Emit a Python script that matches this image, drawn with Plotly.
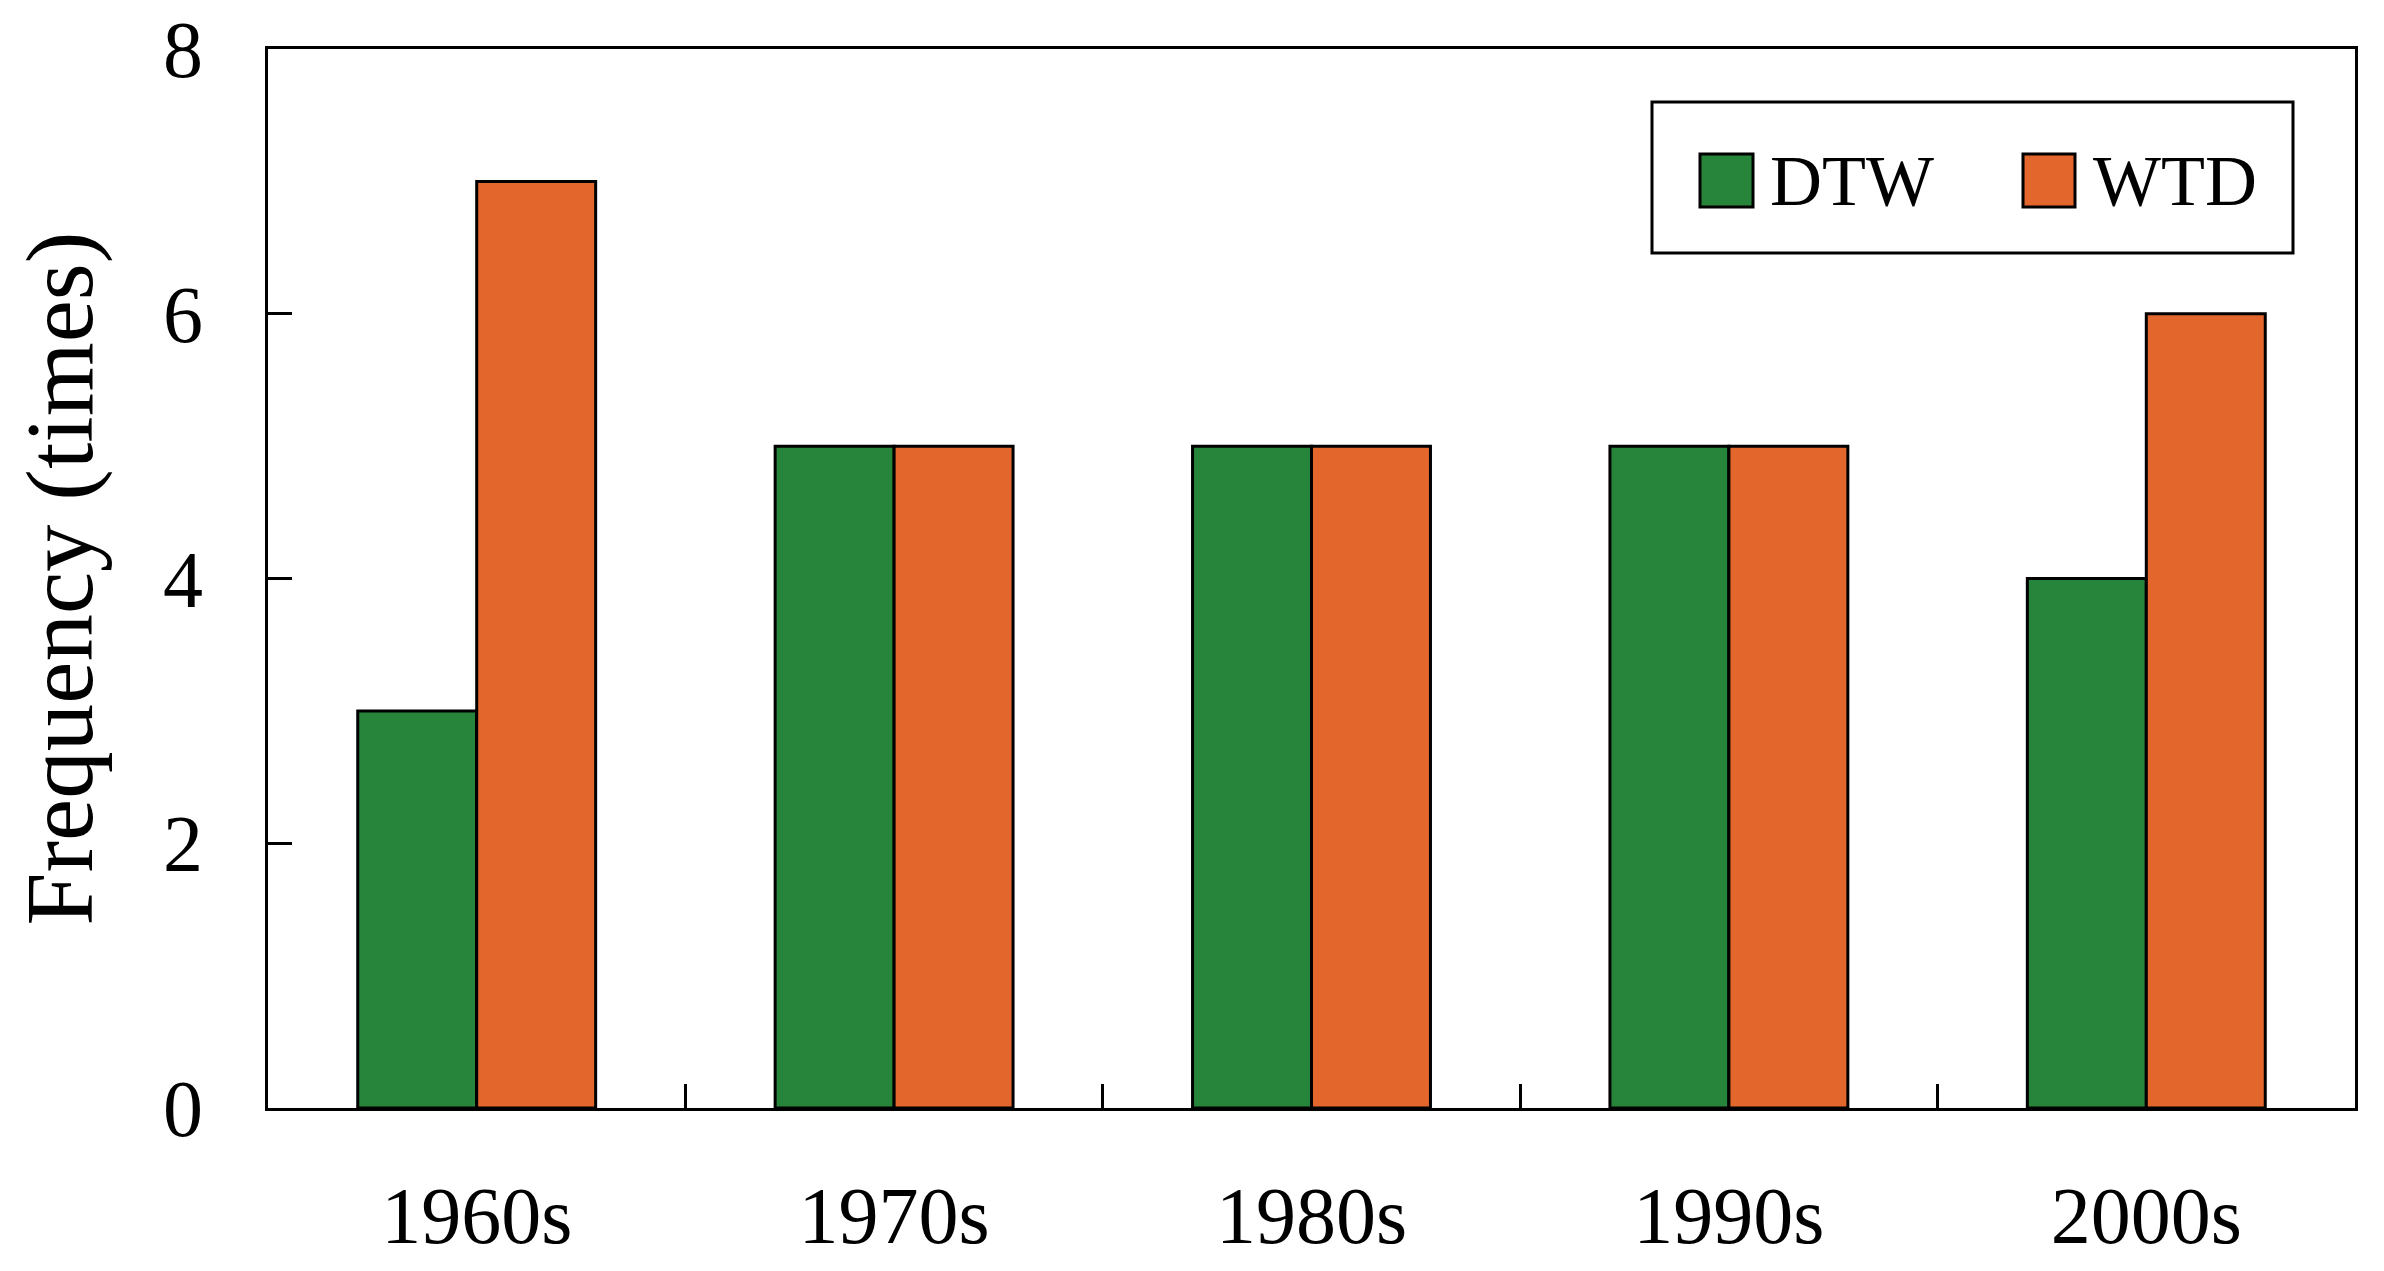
import plotly.graph_objects as go

categories = ["1960s", "1970s", "1980s", "1990s", "2000s"]
series_names = ["DTW", "WTD"]
dtw_values = [3, 5, 5, 5, 4]
wtd_values = [7, 5, 5, 5, 6]
y_tick_values = [0, 2, 4, 6, 8]
y_tick_labels = ["0", "2", "4", "6", "8"]

GREEN = "#26843B"
ORANGE = "#E3672D"
FONT = "Liberation Serif, Times New Roman, serif"
LW = 3

W, H = 2384, 1271
# plot area on page spans x 268..2355, y 49..1108
PX0, PX1, PY0, PY1 = 268, 2355, 49, 1108

fig = go.Figure()
for name, vals, col in zip(series_names, [dtw_values, wtd_values], [GREEN, ORANGE]):
    fig.add_trace(go.Bar(
        x=categories, y=vals, name=name,
        marker=dict(color=col, line=dict(color="black", width=LW)),
        showlegend=False,
    ))

fig.update_layout(
    width=W, height=H,
    margin=dict(l=PX0, r=W - PX1, t=PY0, b=H - PY1, autoexpand=False),
    paper_bgcolor="white", plot_bgcolor="white",
    barmode="group", bargap=0.43, bargroupgap=0,
    font=dict(family=FONT, color="black"),
)
fig.update_xaxes(
    type="category", showline=True, linecolor="black", linewidth=LW, mirror=True,
    ticks="inside", tickson="boundaries", ticklen=24, tickwidth=LW, tickcolor="black",
    tickfont=dict(size=80, family=FONT), ticklabelstandoff=36,
    showgrid=False, zeroline=False,
)
fig.update_yaxes(
    range=[0, 8], tickvals=y_tick_values, ticktext=y_tick_labels,
    showline=True, linecolor="black", linewidth=LW, mirror=True,
    ticks="inside", ticklen=24, tickwidth=LW, tickcolor="black",
    tickfont=dict(size=80, family=FONT), ticklabelstandoff=46,
    ticklabeloverflow="allow",
    showgrid=False, zeroline=False,
    title=dict(text="Frequency (times)", font=dict(size=95, family=FONT), standoff=39),
)

# Legend drawn in paper coordinates (page pixel positions converted)
def px2x(px):
    return (px - PX0) / (PX1 - PX0)

def py2y(py):
    return (PY1 - py) / (PY1 - PY0)

shapes = [
    dict(type="rect", xref="paper", yref="paper",
         x0=px2x(1652), x1=px2x(2293), y0=py2y(253), y1=py2y(102),
         line=dict(color="black", width=LW), fillcolor="white", layer="above"),
]
swatch_x = [(1700, 1753), (2023, 2075)]
text_x = [1768, 2091]
for (sx0, sx1), col, tx, name in zip(swatch_x, [GREEN, ORANGE], text_x, series_names):
    shapes.append(dict(type="rect", xref="paper", yref="paper",
                       x0=px2x(sx0), x1=px2x(sx1), y0=py2y(207), y1=py2y(154),
                       line=dict(color="black", width=LW), fillcolor=col, layer="above"))
    fig.add_annotation(xref="paper", yref="paper", x=px2x(tx), y=py2y(181),
                       text=name, showarrow=False, xanchor="left", yanchor="middle",
                       font=dict(size=72, family=FONT, color="black"))
fig.update_layout(shapes=shapes)

fig.write_html("out.html", config={"displayModeBar": False},
               post_script="document.body.style.margin='0px';")
